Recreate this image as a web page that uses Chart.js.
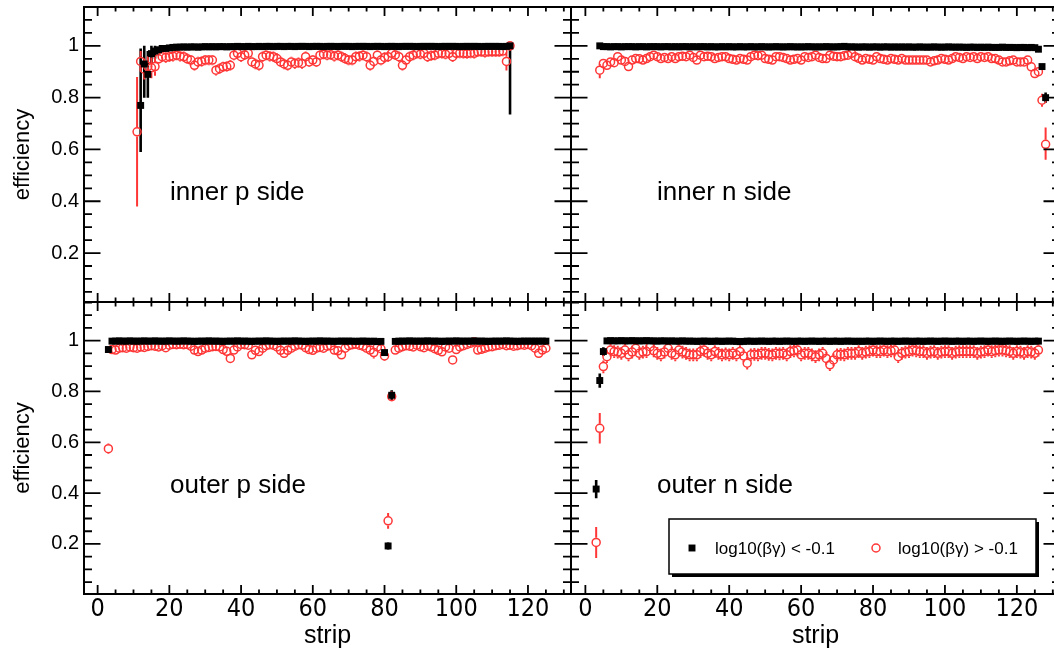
<!DOCTYPE html>
<html>
<head>
<meta charset="utf-8">
<script src="https://cdn.jsdelivr.net/npm/chart.js@4/dist/chart.umd.min.js"></script>
<style>
  html, body { margin: 0; padding: 0; width: 1054px; height: 650px; overflow: hidden; background: #fff; }
  canvas { position: absolute; }
</style>
</head>
<body>
<canvas id="innerP" width="573" height="303" style="left:0;top:0;width:573px;height:303px"></canvas>
<canvas id="innerN" width="491" height="303" style="left:571px;top:0;width:491px;height:303px"></canvas>
<canvas id="outerP" width="573" height="351" style="left:0;top:301px;width:573px;height:351px"></canvas>
<canvas id="outerN" width="491" height="351" style="left:571px;top:301px;width:491px;height:351px"></canvas>
<script>
// tick labels
const xTicks = [0, 20, 40, 60, 80, 100, 120];
const yTicks = [0.2, 0.4, 0.6, 0.8, 1];

// inner p side: first strip of each series, values per strip, special error bars [lo, hi]
const innerPLoFirst = 12;
const innerPLo = [0.77, 0.93, 0.89, 0.97, 0.98, 0.985, 0.99, 0.99, 0.992,
  0.994, 0.995, 0.995, 0.996, 0.995, 0.996, 0.996, 0.995, 0.996, 0.997,
  0.996, 0.997, 0.996, 0.997, 0.997, 0.996, 0.997, 0.997, 0.998, 0.997,
  0.997, 0.998, 0.997, 0.997, 0.998, 0.997, 0.998, 0.998, 0.997, 0.998,
  0.998, 0.997, 0.998, 0.998, 0.997, 0.998, 0.998, 0.998, 0.997, 0.998,
  0.998, 0.998, 0.997, 0.998, 0.998, 0.998, 0.997, 0.998, 0.998, 0.998,
  0.997, 0.998, 0.998, 0.998, 0.998, 0.997, 0.998, 0.998, 0.998, 0.997,
  0.998, 0.998, 0.998, 0.997, 0.998, 0.998, 0.998, 0.998, 0.997, 0.998,
  0.998, 0.998, 0.998, 0.998, 0.997, 0.998, 0.998, 0.998, 0.998, 0.998,
  0.997, 0.998, 0.998, 0.998, 0.998, 0.998, 0.997, 0.998, 0.998, 0.998,
  0.998, 0.998, 0.997, 0.998,
  1.0];
const innerPLoErr = {12: [0.59, 0.99], 13: [0.80, 1.0], 14: [0.80, 0.98], 15: [0.93, 1.0], 16: [0.95, 1.0], 115: [0.735, 1.0]};
const innerPHiFirst = 11;
const innerPHi = [0.668, 0.94, 0.91, 0.92, 0.915, 0.92, 0.95, 0.958, 0.955, 0.958,
  0.96, 0.964, 0.96, 0.958, 0.95, 0.945, 0.925, 0.938, 0.94, 0.945,
  0.945, 0.945, 0.906, 0.912, 0.919, 0.92, 0.925, 0.964, 0.971, 0.958,
  0.965, 0.971, 0.938, 0.93, 0.925, 0.958, 0.964, 0.96, 0.958, 0.951,
  0.938, 0.93, 0.925, 0.938, 0.932, 0.935, 0.932, 0.958, 0.938, 0.945,
  0.938, 0.964, 0.968, 0.964, 0.966, 0.96, 0.964, 0.958, 0.951, 0.945,
  0.945, 0.958, 0.96, 0.964, 0.958, 0.925, 0.94, 0.964, 0.945, 0.955,
  0.958, 0.971, 0.965, 0.958, 0.925, 0.945, 0.958, 0.964, 0.971, 0.968,
  0.971, 0.958, 0.962, 0.964, 0.971, 0.971, 0.968, 0.971, 0.958, 0.971,
  0.972, 0.971, 0.97, 0.972, 0.971, 0.977, 0.977, 0.975, 0.977, 0.977,
  0.977, 0.977, 0.98, 0.94, 1.0];
const innerPHiErr = {11: [0.38, 0.88], 12: [0.90, 0.98], 13: [0.87, 0.95], 14: [0.88, 0.96], 15: [0.875, 0.955], 16: [0.885, 0.955], 114: [0.905, 0.975]};

// inner n side
const innerNLoFirst = 4;
const innerNLo = [1.0,
  0.997, 0.997, 0.996, 0.997, 0.997, 0.996, 0.997, 0.997, 0.997, 0.996,
  0.997, 0.997, 0.996, 0.997, 0.997, 0.997, 0.996, 0.997, 0.997, 0.996,
  0.997, 0.996, 0.997, 0.997, 0.996, 0.997, 0.996, 0.997, 0.997, 0.996,
  0.997, 0.996, 0.996, 0.997, 0.996, 0.997, 0.996, 0.996, 0.997, 0.996,
  0.996, 0.997, 0.996, 0.996, 0.997, 0.996, 0.996, 0.996, 0.997, 0.996,
  0.996, 0.996, 0.997, 0.996, 0.996, 0.996, 0.996, 0.997, 0.996, 0.996,
  0.996, 0.996, 0.997, 0.996, 0.996, 0.996, 0.997, 0.998, 0.996, 0.996,
  0.996, 0.995, 0.996, 0.996, 0.995, 0.996, 0.996, 0.995, 0.996, 0.996,
  0.995, 0.996, 0.995, 0.996, 0.995, 0.996, 0.995, 0.995, 0.996, 0.995,
  0.995, 0.995, 0.996, 0.995, 0.995, 0.995, 0.996, 0.995, 0.995, 0.995,
  0.995, 0.994, 0.995, 0.995, 0.994, 0.995, 0.994, 0.995, 0.994, 0.994,
  0.994, 0.995, 0.994, 0.994, 0.994, 0.993, 0.994, 0.994, 0.993, 0.994,
  0.993, 0.987, 0.92, 0.80];
const innerNLoErr = {127: [0.91, 0.93], 128: [0.78, 0.82]};
const innerNHiFirst = 4;
const innerNHi = [0.906, 0.932, 0.925, 0.938, 0.935, 0.958, 0.945, 0.94, 0.92, 0.945,
  0.951, 0.95, 0.945, 0.951, 0.958, 0.964, 0.958, 0.951, 0.955, 0.951,
  0.958, 0.951, 0.958, 0.96, 0.958, 0.964, 0.955, 0.945, 0.964, 0.958,
  0.96, 0.958, 0.951, 0.955, 0.958, 0.958, 0.951, 0.948, 0.945, 0.951,
  0.948, 0.945, 0.958, 0.964, 0.962, 0.964, 0.951, 0.948, 0.945, 0.958,
  0.958, 0.955, 0.951, 0.945, 0.948, 0.951, 0.945, 0.958, 0.955, 0.958,
  0.964, 0.955, 0.951, 0.951, 0.964, 0.96, 0.958, 0.958, 0.962, 0.964,
  0.971, 0.958, 0.952, 0.945, 0.951, 0.948, 0.945, 0.958, 0.951, 0.948,
  0.945, 0.951, 0.948, 0.945, 0.951, 0.945, 0.945, 0.945, 0.945, 0.945,
  0.945, 0.945, 0.938, 0.942, 0.945, 0.951, 0.948, 0.945, 0.951, 0.958,
  0.955, 0.951, 0.958, 0.955, 0.958, 0.951, 0.958, 0.955, 0.958, 0.951,
  0.951, 0.945, 0.938, 0.938, 0.942, 0.945, 0.938, 0.938, 0.938, 0.945,
  0.919, 0.893, 0.90, 0.79, 0.62];
const innerNHiErr = {4: [0.875, 0.93], 127: [0.765, 0.815], 128: [0.56, 0.685]};

// outer p side
const outerPLoFirst = 3;
const outerPLo = [0.965,
  0.998, 0.998, 0.999, 0.998, 0.998, 0.999, 0.998, 0.998, 0.998, 0.999,
  0.998, 0.998, 0.999, 0.998, 0.998, 0.998, 0.999, 0.998, 0.998, 0.998,
  0.999, 0.998, 0.998, 0.997, 0.998, 0.998, 0.998, 0.999, 0.998, 0.998,
  0.998, 0.997, 0.998, 0.998, 0.998, 0.999, 0.998, 0.998, 0.998, 0.997,
  0.998, 0.998, 0.998, 0.999, 0.998, 0.998, 0.997, 0.998, 0.998, 0.998,
  0.998, 0.999, 0.998, 0.998, 0.997, 0.998, 0.998, 0.998, 0.999, 0.998,
  0.998, 0.998, 0.997, 0.998, 0.998, 0.998, 0.998, 0.998, 0.997, 0.998,
  0.998, 0.998, 0.997, 0.998, 0.996, 0.997,
  0.953, 0.192, 0.785,
  0.997, 0.998, 0.998, 0.998, 0.999, 0.998, 0.998, 0.998, 0.998, 0.999,
  0.998, 0.998, 0.998, 0.997, 0.998, 0.998, 0.998, 0.999, 0.998, 0.998,
  0.998, 0.998, 0.999, 0.998, 0.998, 0.998, 0.997, 0.998, 0.998, 0.998,
  0.998, 0.999, 0.998, 0.998, 0.997, 0.998, 0.998, 0.998, 0.998, 0.998,
  0.998, 0.998, 0.998];
const outerPLoErr = {3: [0.955, 0.975], 80: [0.943, 0.963], 81: [0.178, 0.206], 82: [0.765, 0.805]};
const outerPHiFirst = 3;
const outerPHi = [0.575,
  0.965, 0.963, 0.97, 0.972, 0.97, 0.975, 0.972, 0.97, 0.975, 0.973,
  0.977, 0.98, 0.978, 0.975, 0.98, 0.972, 0.982, 0.985, 0.984, 0.986,
  0.984, 0.985, 0.978, 0.963, 0.957, 0.963, 0.97, 0.973, 0.976, 0.977,
  0.975, 0.965, 0.958, 0.93, 0.963, 0.975, 0.985, 0.984, 0.982, 0.944,
  0.962, 0.957, 0.97, 0.98, 0.984, 0.982, 0.975, 0.962, 0.95, 0.962,
  0.97, 0.978, 0.984, 0.982, 0.972, 0.965, 0.962, 0.97, 0.973, 0.97,
  0.978, 0.98, 0.963, 0.96, 0.944, 0.97, 0.98, 0.984, 0.986, 0.982,
  0.978, 0.97, 0.963, 0.953, 0.975, 0.968, 0.94,
  0.291, 0.78,
  0.963, 0.97, 0.976, 0.98, 0.978, 0.975, 0.982, 0.976, 0.972, 0.98,
  0.975, 0.968, 0.962, 0.956, 0.975, 0.97, 0.924, 0.965, 0.975, 0.98,
  0.985, 0.99, 0.995, 0.963, 0.966, 0.97, 0.975, 0.976, 0.98, 0.982,
  0.985, 0.98, 0.982, 0.978, 0.98, 0.984, 0.982, 0.985, 0.98, 0.97,
  0.95, 0.963, 0.97];
const outerPHiErr = {3: [0.555, 0.595], 37: [0.912, 0.948], 77: [0.93, 0.972], 80: [0.92, 0.96], 81: [0.26, 0.322], 82: [0.76, 0.80], 99: [0.906, 0.942]};

// outer n side
const outerNLoFirst = 3;
const outerNLo = [0.416, 0.843, 0.957,
  0.999, 1.0, 0.999, 0.999, 1.0, 0.999, 0.999, 1.0, 0.999, 0.999,
  0.999, 1.0, 0.999, 0.999, 0.998, 0.999, 0.999, 0.998, 0.999, 0.998,
  0.998, 0.999, 0.998, 0.998, 0.998, 0.997, 0.998, 0.998, 0.998, 0.997,
  0.998, 0.998, 0.997, 0.998, 0.998, 0.998, 0.997, 0.996, 0.997, 0.998,
  0.998, 0.997, 0.998, 0.998, 0.998, 0.997, 0.998, 0.998, 0.997, 0.998,
  0.998, 0.998, 0.997, 0.998, 0.998, 0.997, 0.998, 0.998, 0.998, 0.997,
  0.998, 0.998, 0.997, 0.998, 0.998, 0.997, 0.998, 0.998, 0.998, 0.997,
  0.998, 0.997, 0.998, 0.998, 0.997, 0.998, 0.998, 0.998, 0.997, 0.998,
  0.998, 0.997, 0.998, 0.998, 0.998, 0.997, 0.998, 0.998, 0.997, 0.998,
  0.998, 0.998, 0.997, 0.998, 0.998, 0.998, 0.997, 0.998, 0.998, 0.997,
  0.998, 0.998, 0.997, 0.998, 0.998, 0.998, 0.997, 0.998, 0.998, 0.998,
  0.997, 0.998, 0.998, 0.998, 0.997, 0.998, 0.998, 0.998, 0.997, 0.998,
  0.998];
const outerNLoErr = {3: [0.38, 0.452], 4: [0.815, 0.871], 5: [0.94, 0.974]};
const outerNHiFirst = 3;
const outerNHi = [0.206, 0.655, 0.898, 0.937, 0.963, 0.957, 0.955, 0.95, 0.963, 0.944,
  0.955, 0.97, 0.95, 0.955, 0.957, 0.976, 0.96, 0.95, 0.944, 0.955,
  0.97, 0.95, 0.944, 0.963, 0.955, 0.95, 0.944, 0.944, 0.944, 0.957,
  0.963, 0.95, 0.944, 0.957, 0.95, 0.944, 0.948, 0.944, 0.95, 0.944,
  0.957, 0.94, 0.911, 0.944, 0.946, 0.944, 0.95, 0.95, 0.946, 0.944,
  0.95, 0.948, 0.95, 0.944, 0.957, 0.96, 0.963, 0.944, 0.95, 0.95,
  0.944, 0.937, 0.944, 0.95, 0.93, 0.905, 0.924, 0.944, 0.946, 0.944,
  0.95, 0.95, 0.95, 0.957, 0.95, 0.955, 0.957, 0.963, 0.957, 0.957,
  0.963, 0.957, 0.96, 0.963, 0.937, 0.95, 0.955, 0.957, 0.963, 0.96,
  0.957, 0.957, 0.95, 0.955, 0.957, 0.95, 0.955, 0.957, 0.957, 0.95,
  0.955, 0.957, 0.957, 0.957, 0.957, 0.957, 0.95, 0.955, 0.957, 0.963,
  0.957, 0.96, 0.963, 0.963, 0.96, 0.957, 0.95, 0.957, 0.955, 0.95,
  0.957, 0.955, 0.95, 0.963];
const outerNHiErr = {3: [0.145, 0.267], 4: [0.595, 0.715], 5: [0.872, 0.922]};

const RED = '#ff3636';
const FONT = '"Liberation Sans", Arial, sans-serif';
const FONT_NARROW = '"Liberation Sans Narrow", "DejaVu Sans Condensed", "Liberation Sans", sans-serif';

function points(first, values) {
  return values.map((v, i) => ({x: first + i, y: v}));
}
function errors(first, values, err, special) {
  return values.map((v, i) => special[first + i] || [v - err, Math.min(1, v + err)]);
}

// vertical error bars, drawn under the markers, with a gap for open markers
const errorBars = {
  id: 'errorBars',
  beforeDatasetsDraw(chart) {
    const {ctx, chartArea: a, scales: {x, y}} = chart;
    ctx.save();
    ctx.beginPath();
    ctx.rect(a.left, a.top, a.right - a.left, a.bottom - a.top);
    ctx.clip();
    chart.data.datasets.forEach(ds => {
      ctx.strokeStyle = ds.borderColor;
      ctx.lineWidth = ds.errWidth;
      ctx.beginPath();
      ds.data.forEach((p, i) => {
        const [lo, hi] = ds.errors[i];
        const px = x.getPixelForValue(p.x);
        const py = y.getPixelForValue(p.y);
        const yHi = y.getPixelForValue(hi);
        const yLo = y.getPixelForValue(lo);
        if (yHi < py - ds.errGap) { ctx.moveTo(px, py - ds.errGap); ctx.lineTo(px, yHi); }
        if (yLo > py + ds.errGap) { ctx.moveTo(px, py + ds.errGap); ctx.lineTo(px, yLo); }
      });
      ctx.stroke();
    });
    ctx.restore();
  }
};

// ROOT style frame with inward ticks on all four sides
const frameTicks = {
  id: 'frameTicks',
  afterDatasetsDraw(chart) {
    const {ctx, chartArea: a, scales: {x, y}} = chart;
    ctx.save();
    ctx.strokeStyle = '#000';
    ctx.lineWidth = 1.8;
    ctx.beginPath();
    for (let v = -5; v <= 135; v += 5) {
      if (v < x.min || v > x.max) continue;
      const px = x.getPixelForValue(v);
      const len = v % 20 === 0 ? 9 : 4.5;
      ctx.moveTo(px, a.bottom); ctx.lineTo(px, a.bottom - len);
      ctx.moveTo(px, a.top); ctx.lineTo(px, a.top + len);
    }
    for (let k = 0; k <= 24; k++) {
      const v = k * 0.05;
      if (v < y.min || v > y.max) continue;
      const py = y.getPixelForValue(v);
      const len = k % 4 === 0 ? 16.5 : 8;
      ctx.moveTo(a.left, py); ctx.lineTo(a.left + len, py);
      ctx.moveTo(a.right, py); ctx.lineTo(a.right - len, py);
    }
    ctx.stroke();
    ctx.lineWidth = 2;
    ctx.strokeRect(a.left, a.top, a.right - a.left, a.bottom - a.top);
    ctx.restore();
  }
};

const panelText = {
  id: 'panelText',
  afterDraw(chart, args, opts) {
    const {ctx, chartArea: a} = chart;
    ctx.save();
    ctx.font = '26px ' + FONT;
    ctx.fillStyle = '#000';
    ctx.textBaseline = 'alphabetic';
    ctx.fillText(opts.text, a.left + 86, a.top + opts.dy);
    ctx.restore();
  }
};

const rootLegend = {
  id: 'rootLegend',
  afterDraw(chart, args, opts) {
    if (!opts.show) return;
    const {ctx, chartArea: a} = chart;
    const l = a.left + 98, t = a.top + 217, w = 367, h = 55;
    ctx.save();
    ctx.fillStyle = '#000';
    ctx.fillRect(l + 3, t + 3, w, h);
    ctx.fillStyle = '#fff';
    ctx.fillRect(l, t, w, h);
    ctx.strokeStyle = '#000';
    ctx.lineWidth = 1.5;
    ctx.strokeRect(l, t, w, h);
    const cy = t + 29;
    const offsets = [[23, 46], [207, 229]];
    chart.data.datasets.forEach((ds, i) => {
      ctx.fillStyle = ds.backgroundColor;
      ctx.strokeStyle = ds.borderColor;
      ctx.lineWidth = ds.pointBorderWidth;
      Chart.helpers.drawPoint(ctx, {pointStyle: ds.pointStyle, radius: ds.pointRadius, borderWidth: ds.pointBorderWidth, rotation: 0}, l + offsets[i][0], cy);
      ctx.fillStyle = '#000';
      ctx.font = '17px ' + FONT;
      ctx.textBaseline = 'middle';
      ctx.fillText(ds.label, l + offsets[i][1], cy + 1);
    });
    ctx.restore();
  }
};

function panel(id, p) {
  return new Chart(document.getElementById(id), {
    type: 'scatter',
    data: {
      datasets: [
        {
          label: 'log10(\u03b2\u03b3) < -0.1',
          data: points(p.loFirst, p.lo),
          errors: errors(p.loFirst, p.lo, 0.004, p.loErr),
          pointStyle: 'rect', pointRadius: 4.9, pointBorderWidth: 0,
          backgroundColor: '#000', borderColor: '#000',
          errWidth: 2.6, errGap: 0
        },
        {
          label: 'log10(\u03b2\u03b3) > -0.1',
          data: points(p.hiFirst, p.hi),
          errors: errors(p.hiFirst, p.hi, p.hiErrDefault, p.hiErr),
          pointStyle: 'circle', pointRadius: 4, pointBorderWidth: 1.5,
          backgroundColor: 'rgba(255,255,255,0)', borderColor: RED,
          errWidth: 2, errGap: 4.6
        }
      ]
    },
    options: {
      responsive: false,
      animation: false,
      events: [],
      layout: {padding: p.padding, autoPadding: false},
      scales: {
        x: {
          type: 'linear', min: p.xMin, max: 132,
          display: p.showX,
          afterBuildTicks: s => { s.ticks = xTicks.map(v => ({value: v})); },
          afterFit: s => {
            if (!s.options.display) return;
            s.height = 58; s.paddingLeft = 0; s.paddingRight = 0;
          },
          grid: {display: false, drawTicks: false},
          border: {display: false},
          ticks: {color: '#000', padding: 2, font: {family: FONT_NARROW, size: 25, lineHeight: 1.1}, maxRotation: 0, autoSkip: false},
          title: {display: true, text: 'strip', color: '#000', font: {family: FONT, size: 25}, padding: {top: 0, bottom: 1}}
        },
        y: {
          type: 'linear', min: p.yMin, max: p.yMax,
          display: p.showY,
          afterBuildTicks: s => { s.ticks = yTicks.map(v => ({value: v})); },
          afterFit: s => {
            if (!s.options.display) return;
            s.width = 84; s.paddingTop = 0; s.paddingBottom = 0;
          },
          grid: {display: false, drawTicks: false},
          border: {display: false},
          ticks: {color: '#000', padding: 5, font: {family: FONT, size: 20}, callback: v => (v === 1 ? '1' : v.toFixed(1))},
          title: {display: true, text: 'efficiency', color: '#000', font: {family: FONT, size: 22}, padding: {top: 10, bottom: 0}}
        }
      },
      plugins: {
        legend: {display: false},
        tooltip: {enabled: false},
        panelText: {text: p.text, dy: p.textDy},
        rootLegend: {show: !!p.legend}
      }
    },
    plugins: [errorBars, frameTicks, panelText, rootLegend]
  });
}

panel('innerP', {
  lo: innerPLo, loFirst: innerPLoFirst, loErr: innerPLoErr,
  hi: innerPHi, hiFirst: innerPHiFirst, hiErr: innerPHiErr, hiErrDefault: 0.02,
  xMin: -3.8, yMin: 0.011, yMax: 1.15, showX: false, showY: true,
  padding: {left: 0, top: 7, right: 2, bottom: 1},
  text: 'inner p side', textDy: 193
});
panel('innerN', {
  lo: innerNLo, loFirst: innerNLoFirst, loErr: innerNLoErr,
  hi: innerNHi, hiFirst: innerNHiFirst, hiErr: innerNHiErr, hiErrDefault: 0.015,
  xMin: -4, yMin: 0.011, yMax: 1.15, showX: false, showY: false,
  padding: {left: 0, top: 7, right: 2, bottom: 1},
  text: 'inner n side', textDy: 193
});
panel('outerP', {
  lo: outerPLo, loFirst: outerPLoFirst, loErr: outerPLoErr,
  hi: outerPHi, hiFirst: outerPHiFirst, hiErr: outerPHiErr, hiErrDefault: 0.018,
  xMin: -3.8, yMin: 0.003, yMax: 1.152, showX: true, showY: true,
  padding: {left: 0, top: 1, right: 2, bottom: 0},
  text: 'outer p side', textDy: 191
});
panel('outerN', {
  lo: outerNLo, loFirst: outerNLoFirst, loErr: outerNLoErr,
  hi: outerNHi, hiFirst: outerNHiFirst, hiErr: outerNHiErr, hiErrDefault: 0.025,
  xMin: -4, yMin: 0.003, yMax: 1.152, showX: true, showY: false,
  padding: {left: 0, top: 1, right: 2, bottom: 0},
  text: 'outer n side', textDy: 191, legend: true
});
</script>
</body>
</html>
